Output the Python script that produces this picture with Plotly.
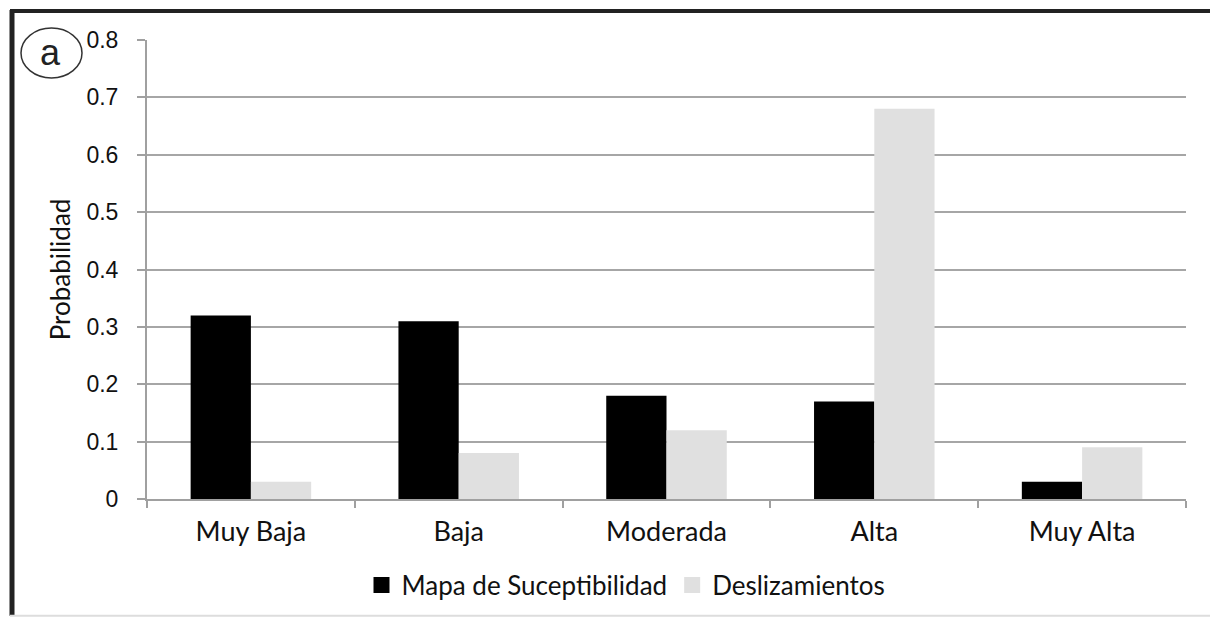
import plotly.graph_objects as go

categories = ["Muy Baja", "Baja", "Moderada", "Alta", "Muy Alta"]
mapa = [0.32, 0.31, 0.18, 0.17, 0.03]
deslizamientos = [0.03, 0.08, 0.12, 0.68, 0.09]
y_ticks = [0, 0.1, 0.2, 0.3, 0.4, 0.5, 0.6, 0.7, 0.8]
series_names = ["Mapa de Suceptibilidad", "Deslizamientos"]
series_colors = ["#000000", "#e0e0e0"]

W, H = 1210, 619
L, T = 147, 40
R = W - 1186
B = H - 500
pw, ph = W - L - R, H - T - B

def px(x):
    return (x - L) / pw

def py(y):
    return (H - B - y) / ph

fig = go.Figure()
for name, vals, col in zip(series_names, [mapa, deslizamientos], series_colors):
    fig.add_trace(go.Bar(x=categories, y=vals, name=name, legendgroup=name, showlegend=False,
                         marker=dict(color=col, line=dict(width=0))))
# legend entries with larger square symbols
for name, col in zip(series_names, series_colors):
    fig.add_trace(go.Scatter(x=[None], y=[None], mode="markers", name=name, legendgroup=name,
                             marker=dict(symbol="square", size=16, color=col), showlegend=True))

fig.update_layout(
    width=W, height=H,
    margin=dict(l=L, r=R, t=T, b=B),
    paper_bgcolor="white", plot_bgcolor="white",
    barmode="group", bargap=0.42, bargroupgap=0,
    font=dict(family="Lato, Open Sans, sans-serif", color="#111111"),
    legend=dict(orientation="h", x=px(626), xanchor="center", y=py(585), yanchor="middle",
                font=dict(size=26, family="Lato, sans-serif"), traceorder="normal",
                itemwidth=30, bgcolor="rgba(0,0,0,0)", itemsizing="trace"),
    showlegend=True,
)
fig.update_xaxes(type="category", showline=True, linecolor="#a0a0a0", linewidth=2,
                 ticks="outside", tickson="boundaries", ticklen=7, tickcolor="#a0a0a0", tickwidth=2,
                 tickfont=dict(size=27, family="Lato, sans-serif"), showgrid=False,
                 ticklabelstandoff=8)
fig.update_yaxes(range=[0, 0.8], tickvals=y_ticks, ticktext=[str(v) for v in y_ticks],
                 showline=True, linecolor="#a0a0a0", linewidth=2,
                 ticks="outside", ticklen=8, tickcolor="#a0a0a0", tickwidth=2,
                 showgrid=True, gridcolor="#a6a6a6", gridwidth=1.5,
                 tickfont=dict(size=23, family="Liberation Sans, Arial, sans-serif"),
                 ticklabelstandoff=14,
                 title=dict(text="Probabilidad", font=dict(size=26, family="Lato, sans-serif"), standoff=8),
                 zeroline=False)

shapes = [
    dict(type="line", xref="paper", yref="paper", x0=px(12), x1=px(12), y0=py(10), y1=py(617),
         line=dict(color="#222222", width=5)),
    dict(type="line", xref="paper", yref="paper", x0=px(10), x1=px(1210), y0=py(11), y1=py(11),
         line=dict(color="#222222", width=4)),
    dict(type="line", xref="paper", yref="paper", x0=px(10), x1=px(1210), y0=py(617), y1=py(617),
         line=dict(color="#dddddd", width=2)),
    dict(type="circle", xref="paper", yref="paper", x0=px(21), x1=px(82), y0=py(28), y1=py(78),
         line=dict(color="#333333", width=1.5)),
]
fig.update_layout(shapes=shapes)
fig.add_annotation(text="a", xref="paper", yref="paper", x=px(50), y=py(53), showarrow=False,
                   font=dict(size=36, family="Liberation Sans, Arial, sans-serif", color="#222222"),
                   xanchor="center", yanchor="middle")

fig.write_html(
    "out.html",
    config={"displayModeBar": False},
    post_script="document.body.style.margin='0';document.body.style.overflow='hidden';",
)
